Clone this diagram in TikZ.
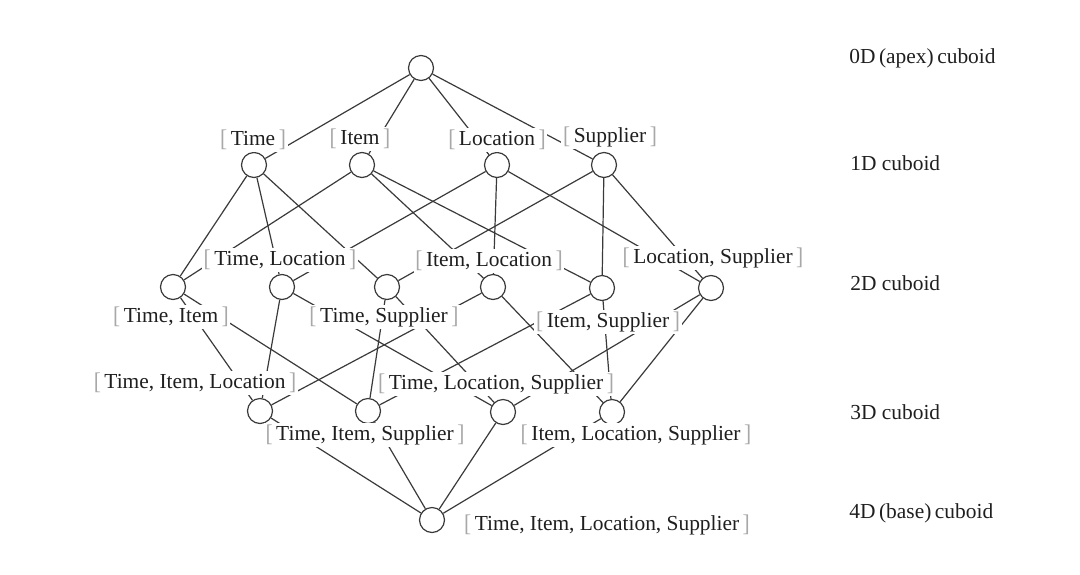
\documentclass[tikz,border=0pt]{standalone}
\usepackage{fontspec}
\setmainfont{Liberation Serif}
\definecolor{linegray}{HTML}{3A3A3A}
\definecolor{brackgray}{HTML}{A8A8A8}
\newcommand{\lbrk}{{\color{brackgray}\raisebox{-0.4pt}{\scalebox{1}[1.12]{[}}}}
\newcommand{\rbrk}{{\color{brackgray}\raisebox{-0.4pt}{\scalebox{1}[1.12]{]}}}}
\newcommand{\dimset}[1]{\lbrk\,#1\,\rbrk}
\tikzset{
  cub/.style={circle, draw=linegray, fill=white, line width=0.6pt, minimum size=12.5pt, inner sep=0pt},
  lab/.style={fill=white, inner sep=0.8pt, text=black!88, font=\fontsize{10.7}{12}\selectfont},
  lvl/.style={anchor=west, inner sep=0pt, text=black!88, font=\fontsize{10.7}{12}\selectfont},
  lnk/.style={draw=linegray, line width=0.6pt}
}
\begin{document}
\begin{tikzpicture}[x=0.5pt,y=-0.5pt]
  \useasboundingbox (0,0) rectangle (1080,574);

  % cuboids, one row per level
  \node[cub] (apex) at (421,68) {};

  \node[cub] (T) at (254,165) {};
  \node[cub] (I) at (362,165) {};
  \node[cub] (L) at (497,165) {};
  \node[cub] (S) at (604,165) {};

  \node[cub] (TI) at (173,287) {};
  \node[cub] (TL) at (282,287) {};
  \node[cub] (TS) at (387,287) {};
  \node[cub] (IL) at (493,287) {};
  \node[cub] (IS) at (602,288) {};
  \node[cub] (LS) at (711,288) {};

  \node[cub] (TIL) at (260,411) {};
  \node[cub] (TIS) at (368,411) {};
  \node[cub] (TLS) at (503,412) {};
  \node[cub] (ILS) at (612,412) {};

  \node[cub] (base) at (432,520) {};

  % lattice links
  \foreach \a in {T,I,L,S}
    \draw[lnk] (apex) -- (\a);
  \foreach \a/\b in {T/TI,T/TL,T/TS,I/TI,I/IL,I/IS,L/TL,L/IL,L/LS,S/TS,S/IS,S/LS}
    \draw[lnk] (\a) -- (\b);
  \foreach \a/\b in {TI/TIL,TI/TIS,TL/TIL,TL/TLS,TS/TIS,TS/TLS,IL/TIL,IL/ILS,IS/TIS,IS/ILS,LS/TLS,LS/ILS}
    \draw[lnk] (\a) -- (\b);
  \foreach \a in {TIL,TIS,TLS,ILS}
    \draw[lnk] (\a) -- (base);

  % dimension labels
  \node[lab] (lT) at (253,140) {\dimset{Time}};
  \node[lab] (lI) at (360,139) {\dimset{Item}};
  \node[lab] (lL) at (497,140) {\dimset{Location}};
  \node[lab] (lS) at (610,137) {\dimset{Supplier}};

  \node[lab] (lTL) at (280,260) {\dimset{Time, Location}};
  \node[lab] (lIL) at (489,261) {\dimset{Item, Location}};
  \node[lab] (lLS) at (713,258) {\dimset{Location, Supplier}};
  \node[lab] (lTI) at (171,317) {\dimset{Time, Item}};
  \node[lab] (lTS) at (384,317) {\dimset{Time, Supplier}};
  \node[lab] (lIS) at (608,322) {\dimset{Item, Supplier}};

  \node[lab] (lTIL) at (195,383) {\dimset{Time, Item, Location}};
  \node[lab] (lTLS) at (496,384) {\dimset{Time, Location, Supplier}};
  \node[lab] (lTIS) at (365,435) {\dimset{Time, Item, Supplier}};
  \node[lab] (lILS) at (636,435) {\dimset{Item, Location, Supplier}};

  \node[lab] (lbase) at (607,525) {\dimset{Time, Item, Location, Supplier}};

  % level names
  \node[lvl] (v0) at (849,58) {0D\,(apex)\,cuboid};
  \node[lvl] (v1) at (850,163) {1D cuboid};
  \node[lvl] (v2) at (850,283) {2D cuboid};
  \node[lvl] (v3) at (850,412) {3D cuboid};
  \node[lvl] (v4) at (849,513) {4D\,(base)\,cuboid};
\end{tikzpicture}
\end{document}
